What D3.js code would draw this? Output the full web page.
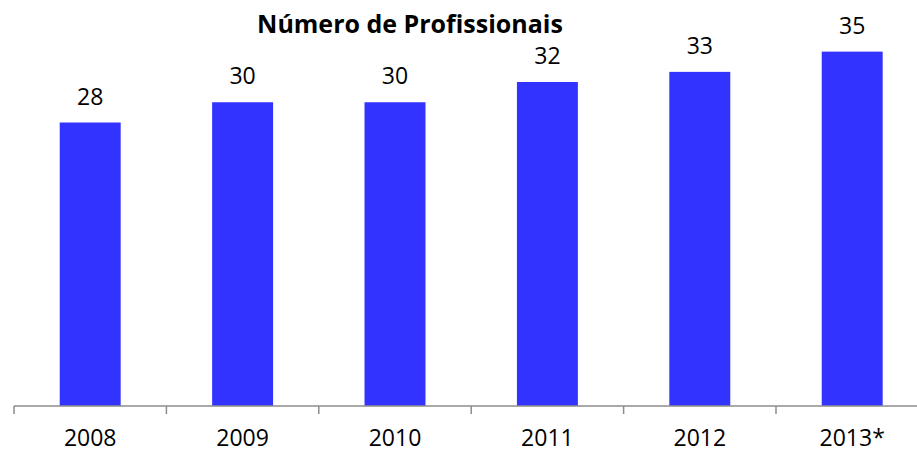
<!DOCTYPE html>
<html>
<head>
<meta charset="utf-8">
<script src="https://cdn.jsdelivr.net/npm/d3@7"></script>
<style>
  body { margin: 0; background: #fff; }
  text { font-family: "Open Sans", sans-serif; fill: #000; }
</style>
</head>
<body>
<div id="chart"></div>
<script>
var years = ["2008", "2009", "2010", "2011", "2012", "2013*"];
var values = [28, 30, 30, 32, 33, 35];
var title = "Número de Profissionais";

var width = 917, height = 452;
var axisY = 406;

var svg = d3.select("#chart").append("svg")
    .attr("width", width)
    .attr("height", height);

var x = d3.scaleBand()
    .domain(years)
    .range([14, 928.4])
    .paddingInner(0.6)
    .paddingOuter(0.3);

var y = d3.scaleLinear()
    .domain([0, 40])
    .range([axisY, 1]);

// title
svg.append("text")
    .attr("x", 410)
    .attr("y", 33)
    .attr("text-anchor", "middle")
    .style("font-weight", "bold")
    .style("font-size", "25px")
    .text(title);

// bars
svg.selectAll(".bar")
    .data(values)
    .enter().append("rect")
    .attr("class", "bar")
    .attr("x", function(d, i){ return x(years[i]); })
    .attr("y", function(d){ return y(d); })
    .attr("width", x.bandwidth())
    .attr("height", function(d){ return y(0) - y(d); })
    .attr("fill", "#3333ff");

// value labels
svg.selectAll(".val")
    .data(values)
    .enter().append("text")
    .attr("class", "val")
    .attr("x", function(d, i){ return x(years[i]) + x.bandwidth()/2; })
    .attr("y", function(d){ return y(d) - 18; })
    .attr("text-anchor", "middle")
    .style("font-size", "23px")
    .text(function(d){ return d; });

// axis line and category boundary ticks
var step = x.step();
svg.append("path")
    .attr("d", "M14," + axisY + " L" + (14 + step*years.length) + "," + axisY)
    .attr("stroke", "#8c8c8c")
    .attr("stroke-width", 1.5)
    .attr("fill", "none");

for(var i = 0; i <= years.length; i++){
    var tx = 14 + i*step;
    svg.append("path")
        .attr("d", "M" + tx + "," + axisY + " L" + tx + "," + (axisY + 8))
        .attr("stroke", "#8c8c8c")
        .attr("stroke-width", 1.5);
}

// category labels
svg.selectAll(".cat")
    .data(years)
    .enter().append("text")
    .attr("class", "cat")
    .attr("x", function(d){ return x(d) + x.bandwidth()/2; })
    .attr("y", 446)
    .attr("text-anchor", "middle")
    .style("font-size", "23px")
    .text(function(d){ return d; });
</script>
</body>
</html>
